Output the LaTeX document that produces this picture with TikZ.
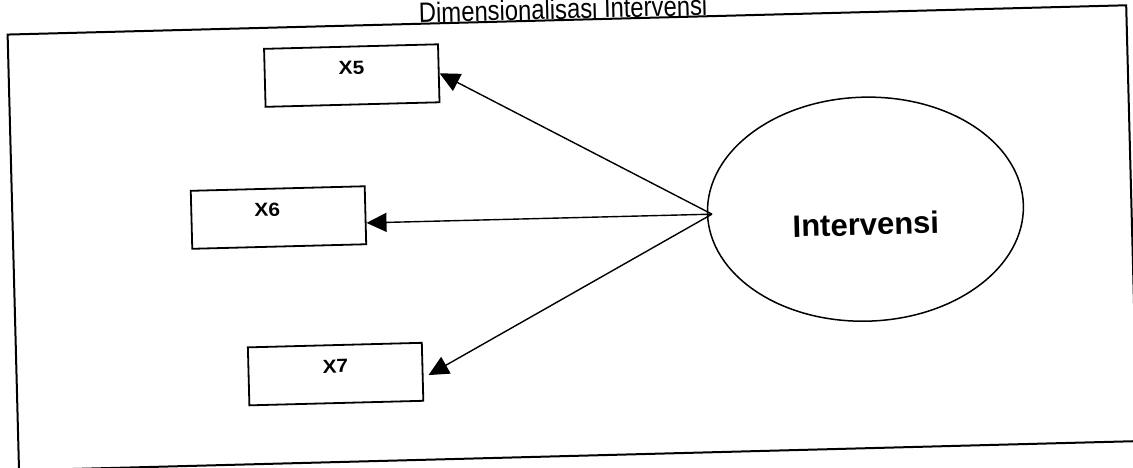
\documentclass[tikz,border=0pt]{standalone}
\usepackage{fontspec}
\setmainfont{Liberation Sans}
\usepackage{graphicx}
\usetikzlibrary{arrows.meta,shapes.geometric}
\tikzset{
  frame/.style={draw, line width=2pt},
  itembox/.style={draw, line width=1.8pt, minimum width=174pt, minimum height=58pt,
    inner sep=0pt, font=\fontsize{19}{19}\selectfont\bfseries,
    text height=13pt, text depth=15.5pt},
  construct/.style={ellipse, draw, line width=1.5pt, minimum width=316pt,
    minimum height=224pt, inner sep=0pt, font=\fontsize{31}{31}\selectfont\bfseries,
    text height=52pt, text depth=0pt},
  link/.style={line width=1.4pt, -{Triangle[length=20pt,width=19pt]}},
  heading/.style={font=\fontsize{28}{28}\selectfont, inner sep=0pt, anchor=base}
}
% indicator labels are set slightly wide, the heading slightly narrow
\newcommand{\widelabel}[1]{\scalebox{1.1}[1]{#1}}
\newcommand{\narrowhead}[1]{\scalebox{0.85}[1]{#1}}

\begin{document}
\begin{tikzpicture}[x=1pt,y=-1pt]
\useasboundingbox (0,0) rectangle (1133,468);
\begin{scope}[rotate around={1.5:(566.5,234)}, transform shape]
  \draw[frame] (13,20) rectangle (1132,456);
  \node[heading] (title) at (569,19) {\narrowhead{Dimensionalisasi Intervensi}};
  \node[itembox] (x5) at (356,70) {\widelabel{X5}};
  \node[itembox] (x6) at (279,210) {\hspace*{-22pt}\widelabel{X6}};
  \node[itembox] (x7) at (332,368) {\widelabel{X7}};
  \node[construct] (int) at (866,217) {Intervensi};
  \coordinate (src) at (712.5,218);
  \draw[link] (src) -- (x5.east);
  \draw[link] (src) -- (x6.-5.3);
  \draw[link, shorten >=5.7pt] (src) -- (x7.-4.6);
\end{scope}
\end{tikzpicture}
\end{document}
